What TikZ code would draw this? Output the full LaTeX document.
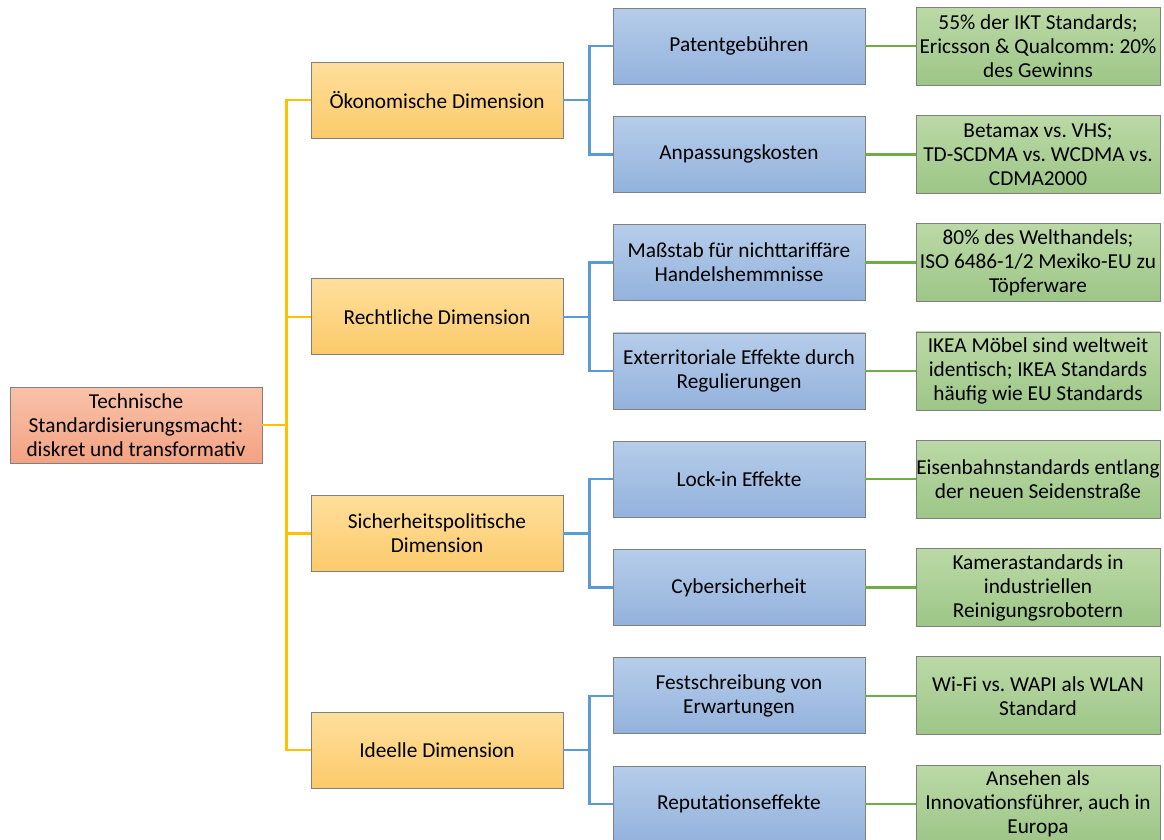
\documentclass[tikz,border=0pt]{standalone}
\usepackage{fontspec}
\setmainfont{Carlito}
\usetikzlibrary{positioning}
\definecolor{rootA}{HTML}{F9C2AA}
\definecolor{rootB}{HTML}{F3A282}
\definecolor{dimA}{HTML}{FFDF9C}
\definecolor{dimB}{HTML}{FBCA6A}
\definecolor{subA}{HTML}{B6CDEA}
\definecolor{subB}{HTML}{93B2DC}
\definecolor{exA}{HTML}{BBD9A6}
\definecolor{exB}{HTML}{9DC687}
\definecolor{dimLine}{HTML}{FFC000}
\definecolor{subLine}{HTML}{5B9BD5}
\definecolor{exLine}{HTML}{70AD47}

\begin{document}
\begin{tikzpicture}[x=1pt,y=-1pt,font=\fontsize{21.3}{24}\selectfont\frenchspacing,
 box/.style={draw=black!50,line width=0.8pt,align=center,inner sep=2pt,minimum height=76pt},
 rootbox/.style={box,minimum width=252pt,top color=rootA,bottom color=rootB},
 dim/.style={box,minimum width=252pt,top color=dimA,bottom color=dimB},
 sub/.style={box,minimum width=252pt,top color=subA,bottom color=subB},
 ex/.style={box,inner xsep=0pt,minimum width=244pt,minimum height=78pt,top color=exA,bottom color=exB},
 link/.style={line width=2.4pt}]
\useasboundingbox (0,0) rectangle (1164,839);
\node[rootbox] (root) at (136,425) {Technische\\Standardisierungsmacht:\\diskret und transformativ};
% dimensions
\node[dim] (oek) at (437,100.2) {Ökonomische Dimension};
\node[dim] (recht) at (437,316.8) {Rechtliche Dimension};
\node[dim] (sich) at (437,533.4) {Sicherheitspolitische\\Dimension};
\node[dim] (ideal) at (437,750) {Ideelle Dimension};
% oekonomische branch
\node[sub] (pat) at (739,46) {Patentgebühren};
\node[sub] (anp) at (739,154.3) {Anpassungskosten};
\node[ex] (ikt) at (1038,46) {55\% der IKT Standards;\\Ericsson \& Qualcomm: 20\%\\des Gewinns};
\node[ex] (beta) at (1038,154.3) {Betamax vs. VHS;\\TD-SCDMA vs. WCDMA vs.\\CDMA2000};
% rechtliche branch
\node[sub] (mass) at (739,262.6) {Maßstab für nichttariffäre\\Handelshemmnisse};
\node[sub] (extra) at (739,370.9) {Exterritoriale Effekte durch\\Regulierungen};
\node[ex] (welt) at (1038,262.6) {80\% des Welthandels;\\ISO 6486-1/2 Mexiko-EU zu\\Töpferware};
\node[ex] (ikea) at (1038,370.9) {IKEA Möbel sind weltweit\\identisch; IKEA Standards\\häufig wie EU Standards};
% sicherheitspolitische branch
\node[sub] (lock) at (739,479.2) {Lock-in Effekte};
\node[sub] (cyber) at (739,587.5) {Cybersicherheit};
\node[ex] (bahn) at (1038,479.2) {Eisenbahnstandards entlang\\der neuen Seidenstraße};
\node[ex] (kamera) at (1038,587.5) {Kamerastandards in\\industriellen\\Reinigungsrobotern};
% ideelle branch
\node[sub] (fest) at (739,695.8) {Festschreibung von\\Erwartungen};
\node[sub] (repu) at (739,804.1) {Reputationseffekte};
\node[ex] (wifi) at (1038,695.8) {Wi-Fi vs. WAPI als WLAN\\Standard};
\node[ex] (ansehen) at (1038,804.1) {Ansehen als\\Innovationsführer, auch in\\Europa};
% connectors
\coordinate[right=24pt of root] (bus0);
\draw[link,dimLine] (root.east) -- (bus0);
\foreach \d in {oek,recht,sich,ideal}
 \draw[link,dimLine] (bus0) |- (\d.west);
\coordinate[right=26pt of oek] (boek);
\coordinate[right=26pt of recht] (brecht);
\coordinate[right=26pt of sich] (bsich);
\coordinate[right=26pt of ideal] (bideal);
\draw[link,subLine] (oek.east) -- (boek) |- (pat.west);
\draw[link,subLine] (boek) |- (anp.west);
\draw[link,subLine] (recht.east) -- (brecht) |- (mass.west);
\draw[link,subLine] (brecht) |- (extra.west);
\draw[link,subLine] (sich.east) -- (bsich) |- (lock.west);
\draw[link,subLine] (bsich) |- (cyber.west);
\draw[link,subLine] (ideal.east) -- (bideal) |- (fest.west);
\draw[link,subLine] (bideal) |- (repu.west);
\foreach \s/\e in {pat/ikt,anp/beta,mass/welt,extra/ikea,lock/bahn,cyber/kamera,fest/wifi,repu/ansehen}
 \draw[link,exLine] (\s.east) -- (\e.west);
\end{tikzpicture}
\end{document}
